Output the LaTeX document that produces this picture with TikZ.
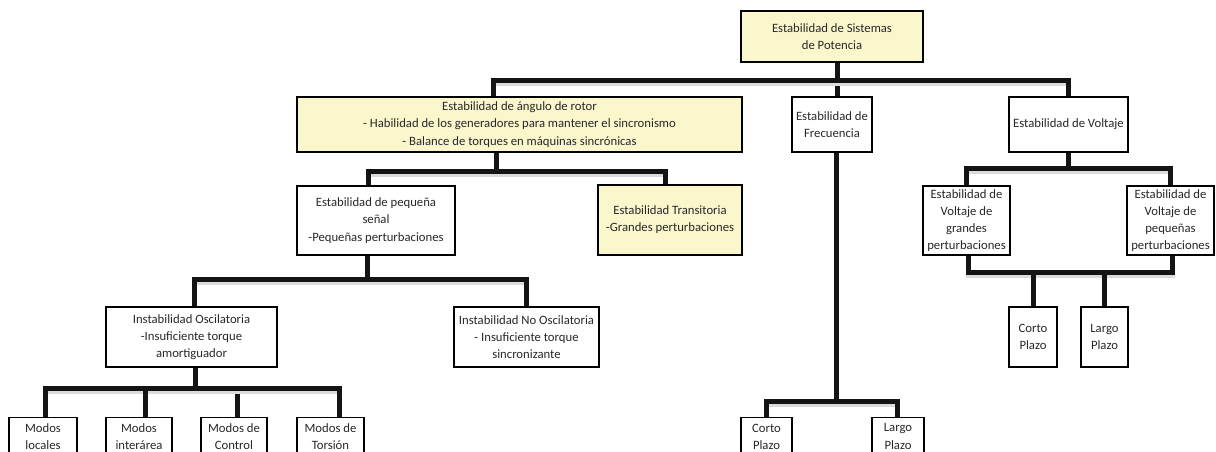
\documentclass[tikz,border=0pt]{standalone}
\usepackage{fontspec}
\setmainfont{Carlito}
\pgfdeclarelayer{background}
\pgfsetlayers{background,main}
\definecolor{ylw}{RGB}{250,247,205}
\definecolor{txt}{RGB}{40,40,40}
\tikzset{
  box/.style={draw=black, line width=1.6pt, inner sep=0pt, align=center,
    text=txt, font=\fontsize{12.7pt}{17.2pt}\selectfont, fill=white},
  hl/.style={fill=ylw},
  wh/.style 2 args={minimum width=#1pt, minimum height=#2pt},
  conn/.style={line width=5pt, draw=black!92, line join=miter,
    preaction={draw=black!14, line width=5pt, transform canvas={yshift=-2.5pt}}}
}
\begin{document}
\begin{tikzpicture}[x=1pt, y=-1pt]
\useasboundingbox (0,0) rectangle (1216,451);
\clip (0,0) rectangle (1216,451);

% level 0
\node[box, hl, wh={182}{51}] (top) at (832,36.5) {Estabilidad de Sistemas\\de Potencia};

% level 1
\node[box, hl, wh={445}{55}] (rotor) at (519.5,124.5)
  {Estabilidad de ángulo de rotor\\- Habilidad de los generadores para mantener el sincronismo\\- Balance de torques en máquinas sincrónicas};
\node[box, wh={80}{55}] (freq) at (832,124.5) {Estabilidad de\\Frecuencia};
\node[box, wh={119}{55}] (volt) at (1068.5,124.5) {Estabilidad de Voltaje};

% level 2
\node[box, wh={158}{69}] (small) at (376,220.5) {Estabilidad de pequeña\\señal\\-Pequeñas perturbaciones};
\node[box, hl, wh={144}{70}] (trans) at (670,220) {Estabilidad Transitoria\\-Grandes perturbaciones};
\node[box, wh={87}{69}] (vlarge) at (966.5,220.5) {Estabilidad de\\Voltaje de\\grandes\\perturbaciones};
\node[box, wh={87}{69}] (vsmall) at (1170.5,220.5) {Estabilidad de\\Voltaje de\\pequeñas\\perturbaciones};

% level 3
\node[box, wh={171}{60}] (osc) at (191.5,337) {Instabilidad Oscilatoria\\-Insuficiente torque\\amortiguador};
\node[box, wh={145}{60}] (nonosc) at (526.5,337) {Instabilidad No Oscilatoria\\- Insuficiente torque\\sincronizante};
\node[box, wh={48}{60}] (vcorto) at (1033,337) {Corto\\Plazo};
\node[box, wh={47}{60}] (vlargo) at (1104.5,337) {Largo\\Plazo};

% level 4 (boxes run past the lower edge)
\tikzset{low/.style={box, minimum height=38pt, text depth=0pt}}
\node[low, minimum width=51pt] (fcorto) at (766.5,436.5) {Corto\\Plazo};
\node[low, minimum width=52pt] (flargo) at (898,436.5) {Largo\\Plazo};
\node[low, minimum width=68pt] (m1) at (43,436.5) {Modos\\locales};
\node[low, minimum width=66pt] (m2) at (139,436.5) {Modos\\interárea};
\node[low, minimum width=66pt] (m3) at (234,436.5) {Modos de\\Control};
\node[low, minimum width=67pt] (m4) at (330.5,436.5) {Modos de\\Torsión};

\coordinate (vbus) at (0,272);

\begin{pgfonlayer}{background}
% power system stability -> three branches
\draw[conn] ([xshift=5pt]top.south) -- ++(0,18) -| ([xshift=-26.5pt]rotor.north);
\draw[conn] ([xshift=5pt]top.south) -- ++(0,18) -| ([xshift=5pt]freq.north);
\draw[conn] ([xshift=5pt]top.south) -- ++(0,18) -| (volt.north);

% rotor angle stability
\draw[conn] ([xshift=-23.5pt]rotor.south) -- ++(0,19) -| ([xshift=-8pt]small.north);
\draw[conn] ([xshift=-23.5pt]rotor.south) -- ++(0,19) -| ([xshift=-5pt]trans.north);

% small-signal stability
\draw[conn] ([xshift=-9pt]small.south) -- ++(0,24) -| ([xshift=2.5pt]osc.north);
\draw[conn] ([xshift=-9pt]small.south) -- ++(0,24) -| (nonosc.north);

% oscillatory instability modes
\draw[conn] ([xshift=3.5pt]osc.south) -- ++(0,21) -| ([xshift=2pt]m1.north);
\draw[conn] ([xshift=3.5pt]osc.south) -- ++(0,21) -| ([xshift=6pt]m2.north);
\draw[conn] ([xshift=3.5pt]osc.south) -- ++(0,21) -| ([xshift=3pt]m3.north);
\draw[conn] ([xshift=3.5pt]osc.south) -- ++(0,21) -| ([xshift=8.5pt]m4.north);

% frequency stability
\draw[conn] ([xshift=4pt]freq.south) -- ++(0,249) -| (fcorto.north);
\draw[conn] ([xshift=4pt]freq.south) -- ++(0,249) -| ([xshift=-1pt]flargo.north);

% voltage stability
\draw[conn] (volt.south) -- ++(0,16) -| (vlarge.north);
\draw[conn] (volt.south) -- ++(0,16) -| (vsmall.north);
\draw[conn] ([xshift=1.5pt]vlarge.south) -- ++(0,17) -| ([xshift=1.5pt]vsmall.south);
\draw[conn] (vcorto.north) -- (vcorto.north |- vbus);
\draw[conn] (vlargo.north) -- (vlargo.north |- vbus);
\end{pgfonlayer}
\end{tikzpicture}
\end{document}
